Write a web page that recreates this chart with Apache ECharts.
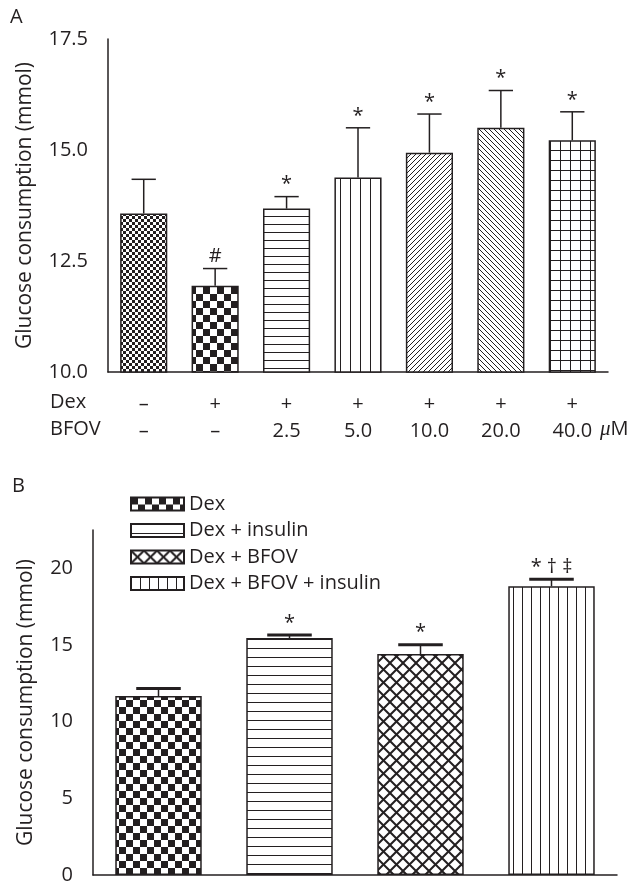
<!DOCTYPE html>
<html>
<head>
<meta charset="utf-8">
<script src="https://cdn.jsdelivr.net/npm/echarts@6/dist/echarts.min.js"></script>
<style>
  html, body { margin: 0; padding: 0; background: #fff; }
  #chart { width: 631px; height: 885px; }
</style>
</head>
<body>
<div id="chart"></div>
<script>
// panel A: glucose consumption vs BFOV dose
var dexRow = ['–', '+', '+', '+', '+', '+', '+']
var bfovRow = ['–', '–', '2.5', '5.0', '10.0', '20.0', '40.0']
var meanA = [13.57, 11.94, 13.68, 14.38, 14.94, 15.50, 15.22]
var errA = [0.77, 0.39, 0.27, 1.12, 0.87, 0.84, 0.64]
var markA = ['', '#', '*', '*', '*', '*', '*']
var ticksA = [10, 12.5, 15, 17.5]

// panel B: insulin / BFOV combinations
var groupsB = ['Dex', 'Dex + insulin', 'Dex + BFOV', 'Dex + BFOV + insulin']
var meanB = [11.67, 15.45, 14.41, 18.83]
var errB = [0.50, 0.21, 0.61, 0.45]
var markB = ['', '*', '*', '* † ‡']
var ticksB = [0, 5, 10, 15, 20]

var ink = '#231f20'
var font = '"Open Sans", "Noto Sans", sans-serif'

// hatch fills drawn on small canvases
function tile(w, h, draw) {
  var c = document.createElement('canvas')
  c.width = w; c.height = h
  var ctx = c.getContext('2d')
  ctx.fillStyle = '#fff'
  ctx.fillRect(0, 0, w, h)
  ctx.fillStyle = ink
  ctx.strokeStyle = ink
  draw(ctx, w, h)
  return { image: c, repeat: 'repeat' }
}
function checker(n) {
  return tile(2 * n, 2 * n, function (ctx) { ctx.fillRect(0, 0, n, n); ctx.fillRect(n, n, n, n) })
}
function hlines(s) { return tile(4, s, function (ctx, w) { ctx.fillRect(0, 0, w, 1) }) }
function vlines(s) { return tile(s, 4, function (ctx, w, h) { ctx.fillRect(0, 0, 1, h) }) }
function grid(s) { return tile(s, s, function (ctx, w, h) { ctx.fillRect(0, 0, w, 1); ctx.fillRect(0, 0, 1, h) }) }
function diag(s, back) {
  return tile(s, s, function (ctx) {
    for (var i = 0; i < s; i++) ctx.fillRect(i, back ? i : s - 1 - i, 1, 1)
  })
}
function cross(s) {
  return tile(s, s, function (ctx) {
    ctx.lineWidth = 2
    ;[-s, 0, s].forEach(function (o) {
      ctx.beginPath(); ctx.moveTo(o, 0); ctx.lineTo(o + s, s); ctx.stroke()
      ctx.beginPath(); ctx.moveTo(o + s, 0); ctx.lineTo(o, s); ctx.stroke()
    })
  })
}

var fillA = [checker(3), checker(7), hlines(8), vlines(10), diag(5, false), diag(5, true), grid(10)]
var fillB = [checker(7), hlines(9), cross(13), vlines(9)]

function errorSeries(idx, means, errs, marks, capFrac, capLw) {
  return {
    type: 'custom',
    xAxisIndex: idx,
    yAxisIndex: idx,
    z: 5,
    data: means.map(function (m, i) { return [i, m, m + errs[i]] }),
    renderItem: function (params, api) {
      var i = api.value(0)
      var base = api.coord([i, api.value(1)])
      var top = api.coord([i, api.value(2)])
      var half = api.size([1, 0])[0] * capFrac / 2
      return {
        type: 'group',
        children: [
          { type: 'line', shape: { x1: base[0], y1: base[1], x2: top[0], y2: top[1] }, style: { stroke: ink, lineWidth: 1.5 } },
          { type: 'line', shape: { x1: top[0] - half, y1: top[1], x2: top[0] + half, y2: top[1] }, style: { stroke: ink, lineWidth: capLw } },
          { type: 'text', x: top[0], y: top[1] - 2, style: { text: marks[i], fill: ink, font: '20px ' + font, align: 'center', verticalAlign: 'bottom' } }
        ]
      }
    }
  }
}

var axisLine = { show: true, lineStyle: { color: ink, width: 1.5 } }
var yName = 'Glucose consumption (mmol)'

var chart = echarts.init(document.getElementById('chart'))
chart.setOption({
  backgroundColor: '#fff',
  animation: false,
  textStyle: { fontFamily: font },
  grid: [
    { left: 108, top: 39, width: 500, height: 333 },
    { left: 93, top: 530, width: 524, height: 347 }
  ],
  legend: {
    orient: 'vertical',
    left: 130,
    top: 494,
    padding: 0,
    icon: 'rect',
    itemWidth: 53,
    itemHeight: 13,
    itemGap: 6.5,
    selectedMode: false,
    textStyle: { fontSize: 20, color: ink, lineHeight: 20 },
    data: groupsB
  },
  xAxis: [
    {
      type: 'category', gridIndex: 0,
      data: dexRow.map(function (d, i) { return i }),
      axisLine: axisLine, axisTick: { show: false },
      axisLabel: {
        interval: 0, margin: 19, color: ink, fontSize: 20, lineHeight: 27,
        formatter: function (v, i) { return dexRow[i] + '\n' + bfovRow[i] }
      }
    },
    {
      type: 'category', gridIndex: 1, data: groupsB,
      axisLine: axisLine, axisTick: { show: false }, axisLabel: { show: false }
    }
  ],
  yAxis: [
    {
      type: 'value', gridIndex: 0, min: 10, max: 17.5, interval: 2.5,
      name: yName, nameLocation: 'middle', nameGap: 72,
      nameTextStyle: { fontSize: 21, color: ink },
      axisLine: axisLine, splitLine: { show: false },
      axisTick: { length: 9, lineStyle: { color: ink, width: 1.5 } },
      axisLabel: { margin: 20, color: ink, fontSize: 20, formatter: function (v) { return v.toFixed(1) } }
    },
    {
      type: 'value', gridIndex: 1, min: 0, max: 22.5, interval: 5,
      name: yName, nameLocation: 'middle', nameGap: 56,
      nameTextStyle: { fontSize: 21, color: ink },
      axisLine: axisLine, splitLine: { show: false },
      axisTick: { length: 9, customValues: ticksB, lineStyle: { color: ink, width: 1.5 } },
      axisLabel: { margin: 20, color: ink, fontSize: 20, customValues: ticksB }
    }
  ],
  series: [
    {
      type: 'bar', xAxisIndex: 0, yAxisIndex: 0, barWidth: '66%',
      data: meanA.map(function (m, i) {
        return { value: m, itemStyle: { color: fillA[i], borderColor: ink, borderWidth: 1.5 } }
      })
    },
    errorSeries(0, meanA, errA, markA, 0.34, 1.5)
  ].concat(groupsB.map(function (g, k) {
    return {
      type: 'bar', name: g, xAxisIndex: 1, yAxisIndex: 1, stack: 'b', barWidth: '66%',
      itemStyle: { color: fillB[k], borderColor: ink, borderWidth: 1.5 },
      data: meanB.map(function (m, i) { return i === k ? m : '-' })
    }
  })).concat([errorSeries(1, meanB, errB, markB, 0.34, 3)]),
  graphic: [
    { type: 'text', left: 10, top: 7, style: { text: 'A', font: '20px ' + font, fill: ink } },
    { type: 'text', left: 12, top: 476, style: { text: 'B', font: '20px ' + font, fill: ink } },
    { type: 'text', left: 50, top: 392, style: { text: 'Dex', font: '20px ' + font, fill: ink } },
    { type: 'text', left: 50, top: 419, style: { text: 'BFOV', font: '20px ' + font, fill: ink } },
    {
      type: 'text', left: 600, top: 419,
      style: {
        text: '{mu|μ}M', font: '20px ' + font, fill: ink,
        rich: { mu: { fontFamily: '"Liberation Serif", serif', fontStyle: 'italic', fontSize: 21, fill: ink } }
      }
    }
  ]
})
</script>
</body>
</html>
